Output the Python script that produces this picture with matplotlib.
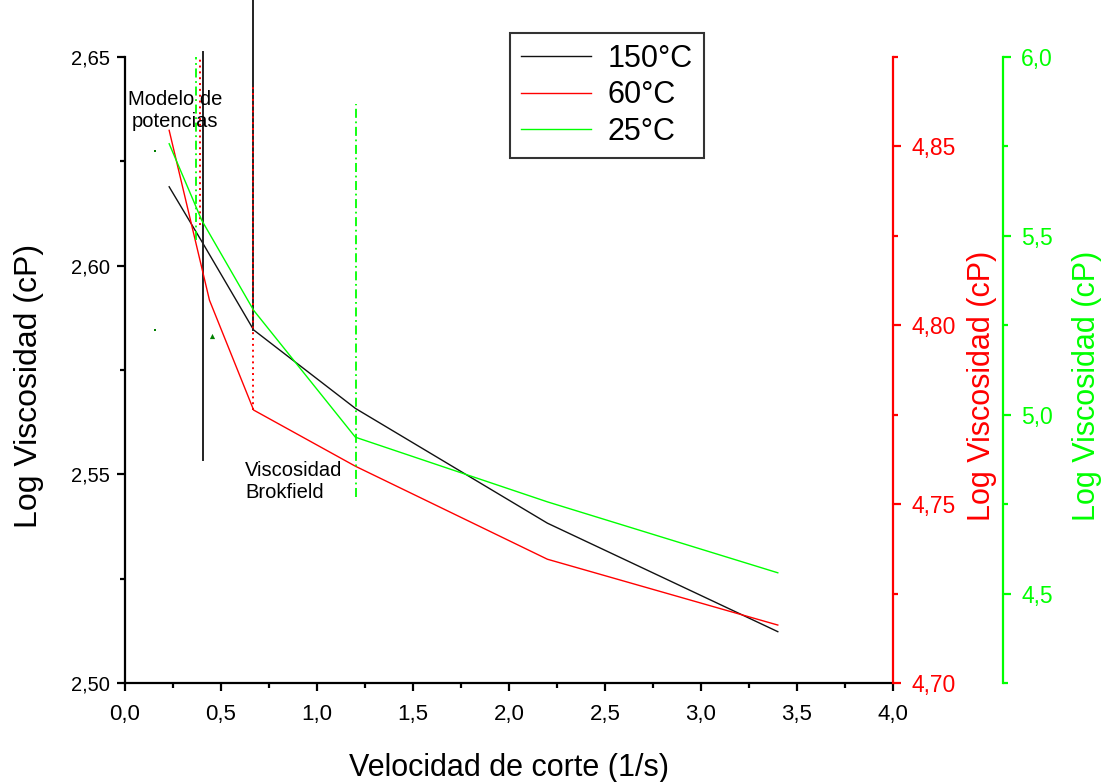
import matplotlib
matplotlib.use("Agg")
import matplotlib.pyplot as plt
from matplotlib.ticker import MultipleLocator, FuncFormatter

plt.rcParams['font.family'] = ['Liberation Sans', 'DejaVu Sans']

# shear rate (1/s)
x_shear = [0.23, 0.40, 0.67, 1.20, 2.20, 3.40]
x_shear_60 = [0.23, 0.44, 0.67, 1.20, 2.20, 3.40]
# log viscosity (cP)
visc_150 = [2.6189, 2.6058, 2.5846, 2.5658, 2.5383, 2.5123]
visc_60 = [4.8545, 4.8070, 4.7763, 4.7606, 4.7346, 4.7162]
visc_25 = [5.7575, 5.5433, 5.2919, 4.9371, 4.7564, 4.5581]
series_labels = ["150°C", "60°C", "25°C"]

# vertical guide lines: (x, y_bottom, y_top)
guide_150 = [(0.406, 2.5534, 2.6512), (0.667, 2.5846, 2.6700)]
guide_60 = [(0.391, 4.8279, 4.8816), (0.667, 4.7763, 4.8670)]
guide_25 = [(0.370, 5.4874, 6.0693), (1.203, 4.7696, 5.8700)]

# stray marks
speck_x = [0.156, 0.156]
speck_y = [2.6275, 2.5846]

RED = "#ff0000"
GREEN = "#00ff00"


def comma(fmt):
    return FuncFormatter(lambda v, p: format(v, fmt).replace(".", ","))


fig = plt.figure(figsize=(11.09, 7.82), dpi=100)
ax = fig.add_axes([125 / 1109, 99 / 782, 768 / 1109, 626 / 782])
ax_r = ax.twinx()
ax_g = ax.twinx()

# main (black) axis
ax.set_xlim(0, 4.0)
ax.set_ylim(2.50, 2.65)
ax.xaxis.set_major_locator(MultipleLocator(0.5))
ax.xaxis.set_minor_locator(MultipleLocator(0.25))
ax.yaxis.set_major_locator(MultipleLocator(0.05))
ax.yaxis.set_minor_locator(MultipleLocator(0.025))
ax.xaxis.set_major_formatter(comma(".1f"))
ax.yaxis.set_major_formatter(comma(".2f"))
ax.spines['top'].set_visible(False)
ax.spines['right'].set_visible(False)
for s in ('left', 'bottom'):
    ax.spines[s].set_linewidth(1.6)
ax.tick_params(which='major', direction='out', length=6, width=1.6,
               labelsize=14.5, pad=5, colors='black')
ax.tick_params(which='minor', direction='out', length=3.6, width=1.6)
ax.tick_params(axis='x', labelsize=16, pad=9)
ax.set_xlabel("Velocidad de corte (1/s)", fontsize=22, labelpad=20)
ax.set_ylabel("Log Viscosidad (cP)", fontsize=23)
ax.yaxis.set_label_coords(-0.106, 0.475)

# red axis
ax_r.set_ylim(4.70, 4.875)
ax_r.yaxis.set_major_locator(MultipleLocator(0.05))
ax_r.yaxis.set_minor_locator(MultipleLocator(0.025))
ax_r.yaxis.set_major_formatter(comma(".2f"))
for s in ('left', 'top', 'bottom'):
    ax_r.spines[s].set_visible(False)
ax_r.spines['right'].set_color(RED)
ax_r.spines['right'].set_linewidth(1.6)
ax_r.tick_params(which='major', direction='out', length=6, width=1.6,
                 labelsize=16.5, pad=7, colors=RED)
ax_r.tick_params(which='minor', direction='out', length=3.6, width=1.6, colors=RED)
ax_r.set_ylabel("Log Viscosidad (cP)", fontsize=22, color=RED)
ax_r.yaxis.set_label_coords(1.097, 0.475)

# green axis
ax_g.set_ylim(4.25, 6.0)
ax_g.spines['right'].set_position(('axes', 1 + 110 / 768))
ax_g.yaxis.set_major_locator(MultipleLocator(0.5))
ax_g.yaxis.set_minor_locator(MultipleLocator(0.25))
ax_g.yaxis.set_major_formatter(comma(".1f"))
for s in ('left', 'top', 'bottom'):
    ax_g.spines[s].set_visible(False)
ax_g.spines['right'].set_color(GREEN)
ax_g.spines['right'].set_linewidth(1.6)
ax_g.tick_params(which='major', direction='out', length=6, width=1.6,
                 labelsize=16.5, pad=7, colors=GREEN)
ax_g.tick_params(which='minor', direction='out', length=3.6, width=1.6, colors=GREEN)
ax_g.set_ylabel("Log Viscosidad (cP)", fontsize=22, color=GREEN)
ax_g.yaxis.set_label_coords(1.233, 0.475)

# data curves
l150, = ax.plot(x_shear, visc_150, color='#111111', lw=1.0)
l60, = ax_r.plot(x_shear_60, visc_60, color=RED, lw=1.0)
l25, = ax_g.plot(x_shear, visc_25, color=GREEN, lw=1.0)

# guide lines
for gx, y0, y1 in guide_150:
    ax.plot([gx, gx], [y0, y1], color='#222222', lw=1.4, clip_on=False)
for gx, y0, y1 in guide_60:
    ax_r.plot([gx, gx], [y0, y1], color=RED, lw=1.4, ls=(0, (1, 2)))
for gx, y0, y1 in guide_25:
    ax_g.plot([gx, gx], [y0, y1], color=GREEN, lw=1.3, ls=(0, (5, 2, 1, 2)))

ax.scatter(speck_x, speck_y, s=2, color='#008000', marker='s', lw=0)
ax.scatter([0.453], [2.5832], s=14, color='#008000', marker='^', lw=0)

ax.text(0.26, 2.6371, "Modelo de\npotencias", fontsize=14.5, ha='center',
        va='center', linespacing=1.2)
ax.text(0.625, 2.5484, "Viscosidad\nBrokfield", fontsize=14.5, ha='left',
        va='center', linespacing=1.2)

leg = ax_g.legend([l150, l60, l25], series_labels, loc='upper left',
                  bbox_to_anchor=(510 / 1109, 1 - 33 / 782),
                  bbox_transform=fig.transFigure, borderaxespad=0,
                  fontsize=22, handlelength=2.3, handletextpad=0.55,
                  labelspacing=0.22, borderpad=0.35, fancybox=False,
                  edgecolor='#333333', framealpha=1)
leg.get_frame().set_linewidth(1.5)

fig.savefig("out.png", dpi=100)
